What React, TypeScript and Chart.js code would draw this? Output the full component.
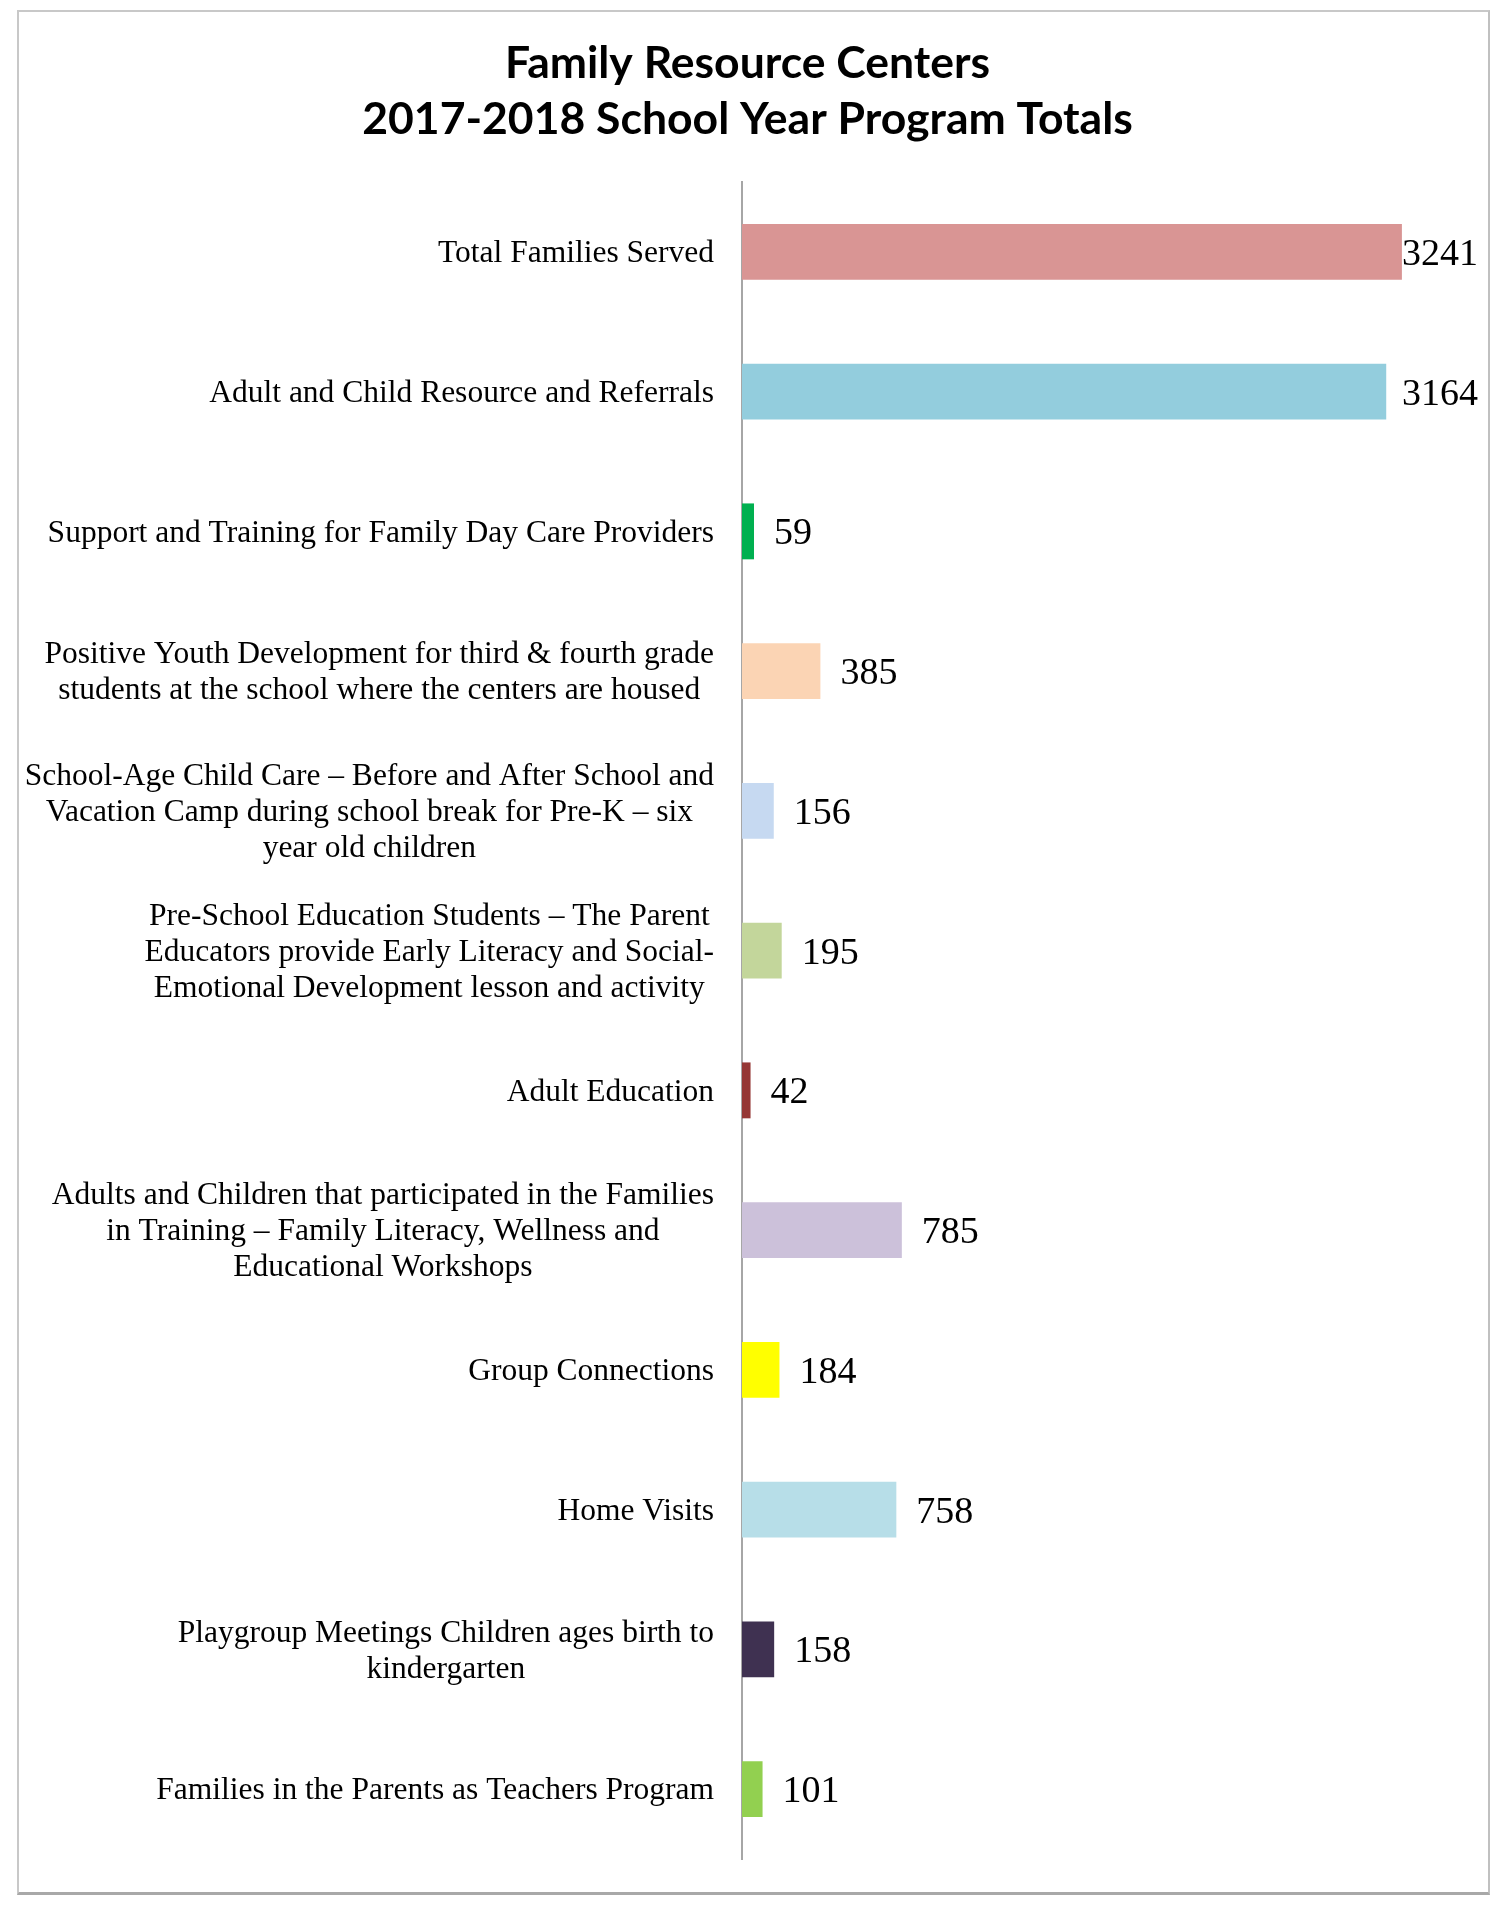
import React, { useEffect, useRef } from "react";
import { Chart, registerables } from "chart.js";

Chart.register(...registerables);

const titleLines = ["Family Resource Centers", "2017-2018 School Year Program Totals"];

const categories: string[][] = [
  ["Total Families Served"],
  ["Adult and Child Resource and Referrals"],
  ["Support and Training for Family Day Care Providers"],
  ["Positive Youth Development for third & fourth grade", "students at the school where the centers are housed"],
  ["School-Age Child Care \u2013 Before and After School and", "Vacation Camp during school break for Pre-K \u2013 six", "year old children"],
  ["Pre-School Education Students \u2013 The Parent", "Educators provide Early Literacy and Social-", "Emotional Development lesson and activity"],
  ["Adult Education"],
  ["Adults and Children that participated in the Families", "in Training \u2013 Family Literacy, Wellness and", "Educational Workshops"],
  ["Group Connections"],
  ["Home Visits"],
  ["Playgroup Meetings Children ages birth to", "kindergarten"],
  ["Families in the Parents as Teachers Program"],
];

const values: number[] = [3241, 3164, 59, 385, 156, 195, 42, 785, 184, 758, 158, 101];

const barColors: string[] = [
  "#D99594",
  "#93CDDD",
  "#00B050",
  "#FBD4B4",
  "#C6D9F1",
  "#C3D69B",
  "#953735",
  "#CCC1DA",
  "#FFFF00",
  "#B7DEE8",
  "#3F3151",
  "#92D050",
];

const xMax = 3600;

export default function App() {
  const ref = useRef<HTMLCanvasElement>(null);

  useEffect(() => {
    const canvas = ref.current;
    if (!canvas) return;

    const yLabelPlugin = {
      id: "yLabelsCentered",
      afterDraw(chart: any) {
        const ctx = chart.ctx;
        const yScale = chart.scales.y;
        const right = chart.chartArea.left - 28;
        const lh = 36;
        ctx.save();
        ctx.font = "31.5px 'Liberation Serif'";
        ctx.fillStyle = "#000000";
        ctx.textAlign = "center";
        ctx.textBaseline = "middle";
        (chart.data.labels as any[]).forEach((lab, i) => {
          const lines: string[] = Array.isArray(lab) ? lab : [String(lab)];
          const w = Math.max(...lines.map((l) => ctx.measureText(l).width));
          const cx = right - w / 2;
          const cy = yScale.getPixelForValue(i) + 2;
          lines.forEach((l, j) => {
            ctx.fillText(l, cx, cy + (j - (lines.length - 1) / 2) * lh);
          });
        });
        ctx.restore();
      },
    };

    const valueLabelPlugin = {
      id: "valueLabels",
      afterDatasetsDraw(chart: any) {
        const ctx = chart.ctx;
        const meta = chart.getDatasetMeta(0);
        const limit = chart.chartArea.right + 3;
        ctx.save();
        ctx.font = "38px 'Liberation Serif'";
        ctx.fillStyle = "#000000";
        ctx.textAlign = "left";
        ctx.textBaseline = "middle";
        meta.data.forEach((bar: any, i: number) => {
          const txt = String(chart.data.datasets[0].data[i]);
          const w = ctx.measureText(txt).width;
          let x = bar.x + 20;
          if (x + w > limit) x = limit - w;
          ctx.fillText(txt, x, bar.y + 3);
        });
        ctx.restore();
      },
    };

    const chart = new Chart(canvas, {
      type: "bar",
      data: {
        labels: categories,
        datasets: [
          {
            data: values,
            backgroundColor: barColors,
            borderWidth: 0,
            barPercentage: 0.4,
            categoryPercentage: 1,
          },
        ],
      },
      options: {
        indexAxis: "y",
        responsive: false,
        animation: false,
        layout: { padding: { left: 20, right: 25, top: 0, bottom: 49 } },
        plugins: {
          legend: { display: false },
          tooltip: { enabled: false },
          title: {
            display: true,
            text: titleLines,
            color: "#000000",
            font: { family: "Lato", size: 44.5, weight: "bold", lineHeight: 56 / 44.5 },
            padding: { top: 36, bottom: 34 },
          },
        },
        scales: {
          x: {
            type: "linear",
            display: false,
            min: 0,
            max: xMax,
          },
          y: {
            type: "category",
            position: "left",
            grid: { display: false, drawTicks: false },
            border: { display: true, color: "#A6A6A6", width: 2 },
            ticks: { display: false },
            afterFit: (scale: any) => {
              scale.width = 722;
            },
          },
        },
      },
      plugins: [yLabelPlugin, valueLabelPlugin],
    } as any);

    return () => chart.destroy();
  }, []);

  return (
    <div style={{ position: "absolute", left: 0, top: 0, width: 1500, height: 1908, background: "#ffffff" }}>
      <canvas ref={ref} width={1500} height={1908} style={{ position: "absolute", left: 0, top: 0 }} />
      <div
        style={{
          position: "absolute",
          left: 17,
          top: 10,
          width: 1469,
          height: 1880,
          borderTop: "2px solid #C8C8C8",
          borderLeft: "2px solid #C8C8C8",
          borderRight: "2px solid #C0C0C0",
          borderBottom: "3px solid #A8A8A8",
          pointerEvents: "none",
        }}
      />
    </div>
  );
}
